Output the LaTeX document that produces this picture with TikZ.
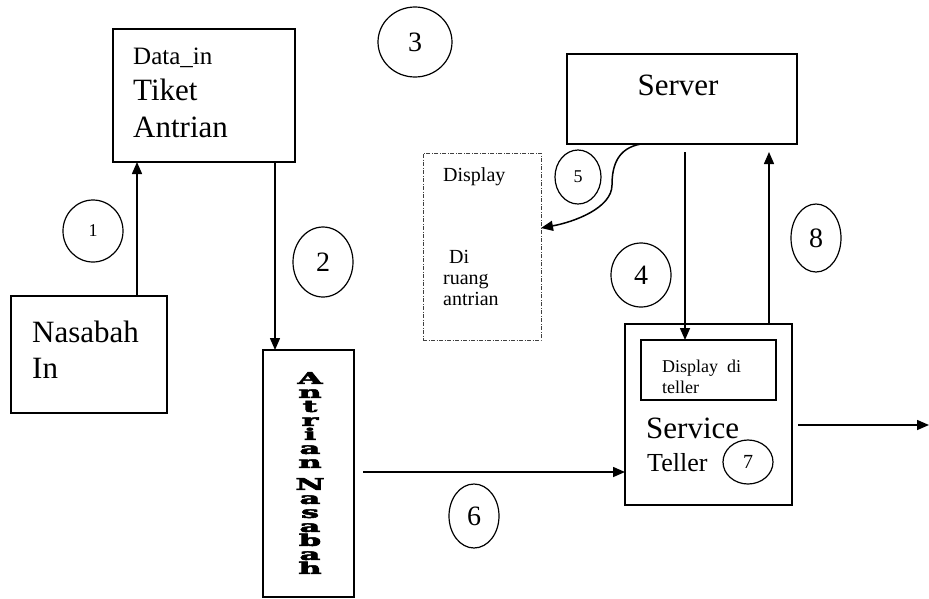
\documentclass[tikz,border=0pt]{standalone}
\usepackage{fontspec}
\setmainfont{Liberation Serif}
\newfontfamily\slabfont{DejaVu Serif Bold}[FakeBold=3]
\usetikzlibrary{arrows.meta,shapes.geometric}

% one stretched letter of the vertical label
\newcommand{\wideltr}[1]{\scalebox{2.0}[1]{#1}}

\begin{document}
\begin{tikzpicture}[x=1pt,y=-1pt,
  box/.style={draw, line width=1.5pt, inner sep=0pt, outer sep=0pt, anchor=north west},
  dispbox/.style={draw=black!75, line width=0.8pt, dash pattern=on 4pt off 1.5pt on 1pt off 1.5pt,
                  inner sep=0pt, outer sep=0pt, anchor=north west},
  lbl/.style={inner sep=0pt, anchor=base west},
  num/.style={draw, ellipse, line width=1.2pt, inner sep=0pt, outer sep=0pt},
  arr/.style={line width=1.5pt, -{Triangle[length=12pt,width=10pt]}},
  bigtxt/.style={font=\fontsize{31}{31}\selectfont},
  midtxt/.style={font=\fontsize{26}{26}\selectfont},
  smalltxt/.style={font=\fontsize{20}{20}\selectfont},
  numtxt/.style={font=\fontsize{28}{28}\selectfont},
  numsmall/.style={font=\fontsize{18}{18}\selectfont}]

\useasboundingbox (0,0) rectangle (929,598);

% ticket box
\node[box, minimum width=182pt, minimum height=133pt] (dbox) at (113,29) {};
\node[lbl, font=\fontsize{25}{25}\selectfont] (tdata) at (133,64) {Data\_in};
\node[lbl, bigtxt] (ttiket) at (133,100) {Tiket};
\node[lbl, bigtxt] (tantri) at (133,137) {Antrian};

% customer entry
\node[box, minimum width=156pt, minimum height=117pt] (nbox) at (11,296) {};
\node[lbl, bigtxt] (tnas) at (32,342) {Nasabah};
\node[lbl, bigtxt] (tin) at (32,378) {In};

% queue box with stacked letters
\node[box, minimum width=91pt, minimum height=247pt] (qbox) at (263,350) {};
\node[align=center, inner sep=0pt, font=\slabfont\fontsize{16}{14}\selectfont] (qtxt) at (310,473)
  {\wideltr{A}\\\wideltr{n}\\\wideltr{t}\\\wideltr{r}\\\wideltr{i}\\\wideltr{a}\\\wideltr{n}\\[8pt]
   \wideltr{N}\\\wideltr{a}\\\wideltr{s}\\\wideltr{a}\\\wideltr{b}\\\wideltr{a}\\\wideltr{h}};

% server
\node[box, minimum width=230pt, minimum height=90pt] (srv) at (567,54) {};
\node[inner sep=0pt, anchor=base, bigtxt] (tsrv) at (678,95) {Server};

% waiting room display
\node[dispbox, minimum width=118pt, minimum height=187pt] (disp) at (423,153) {};
\node[lbl, smalltxt] (tdisp) at (443,181) {Display};
\node[lbl, smalltxt] (tdi) at (449,263) {Di};
\node[lbl, smalltxt] (truang) at (443,284) {ruang};
\node[lbl, smalltxt] (tantr2) at (443,305) {antrian};

% teller
\node[box, minimum width=167pt, minimum height=181pt] (tel) at (625,324) {};
\node[box, line width=1.2pt, minimum width=135pt, minimum height=60pt] (tdbox) at (641,340) {};
\node[lbl, font=\fontsize{18}{18}\selectfont] (tdd) at (662,372) {Display\ \ di};
\node[lbl, font=\fontsize{18}{18}\selectfont] (tdt) at (662,393) {teller};
\node[lbl, bigtxt] (tserv) at (646,438) {Service};
\node[lbl, midtxt] (tteller) at (647,471) {Teller};

% step numbers
\node[num, minimum width=60pt, minimum height=62pt, numsmall] (n1) at (93,231) {1};
\node[num, minimum width=60pt, minimum height=70pt, numtxt] (n2) at (323,262) {2};
\node[num, minimum width=74pt, minimum height=70pt, numtxt] (n3) at (415,42) {3};
\node[num, minimum width=60pt, minimum height=64pt, numtxt] (n4) at (641,275) {4};
\node[num, minimum width=46pt, minimum height=54pt, numsmall] (n5) at (578,177) {5};
\node[num, minimum width=50pt, minimum height=64pt, numtxt] (n6) at (474,516) {6};
\node[num, minimum width=50pt, minimum height=44pt, font=\fontsize{20}{20}\selectfont] (n7) at (748,462) {\raisebox{-9pt}{7}};
\node[num, minimum width=50pt, minimum height=68pt, numtxt] (n8) at (816,238) {8};

% connector columns and free ends
\coordinate (x1) at (137,0);
\coordinate (x2) at (275,0);
\coordinate (x4) at (685,0);
\coordinate (x8) at (769,0);
\coordinate (y6) at (0,472);
\coordinate (yout) at (0,425);
\coordinate (outend) at (929,425);

\draw[arr] (x1 |- nbox.north) -- (x1 |- dbox.south);
\draw[arr] (x2 |- dbox.south) -- (x2 |- qbox.north);
\draw[arr] ([xshift=9pt]qbox.east |- y6) -- (tel.west |- y6);
\draw[arr] ([yshift=-8pt]x4 |- srv.south) -- (x4 |- tdbox.north);
\draw[arr] (x8 |- tel.north) -- ([yshift=-8pt]x8 |- srv.south);
\draw[arr] ([xshift=6pt]tel.east |- yout) -- (outend);
\draw[arr] ([xshift=74pt]srv.south west) .. controls +(-23,4) and +(0,-20) .. (612,185)
  .. controls +(0,23) and +(33,-6) .. (disp.east |- 0,228);

\end{tikzpicture}
\end{document}
